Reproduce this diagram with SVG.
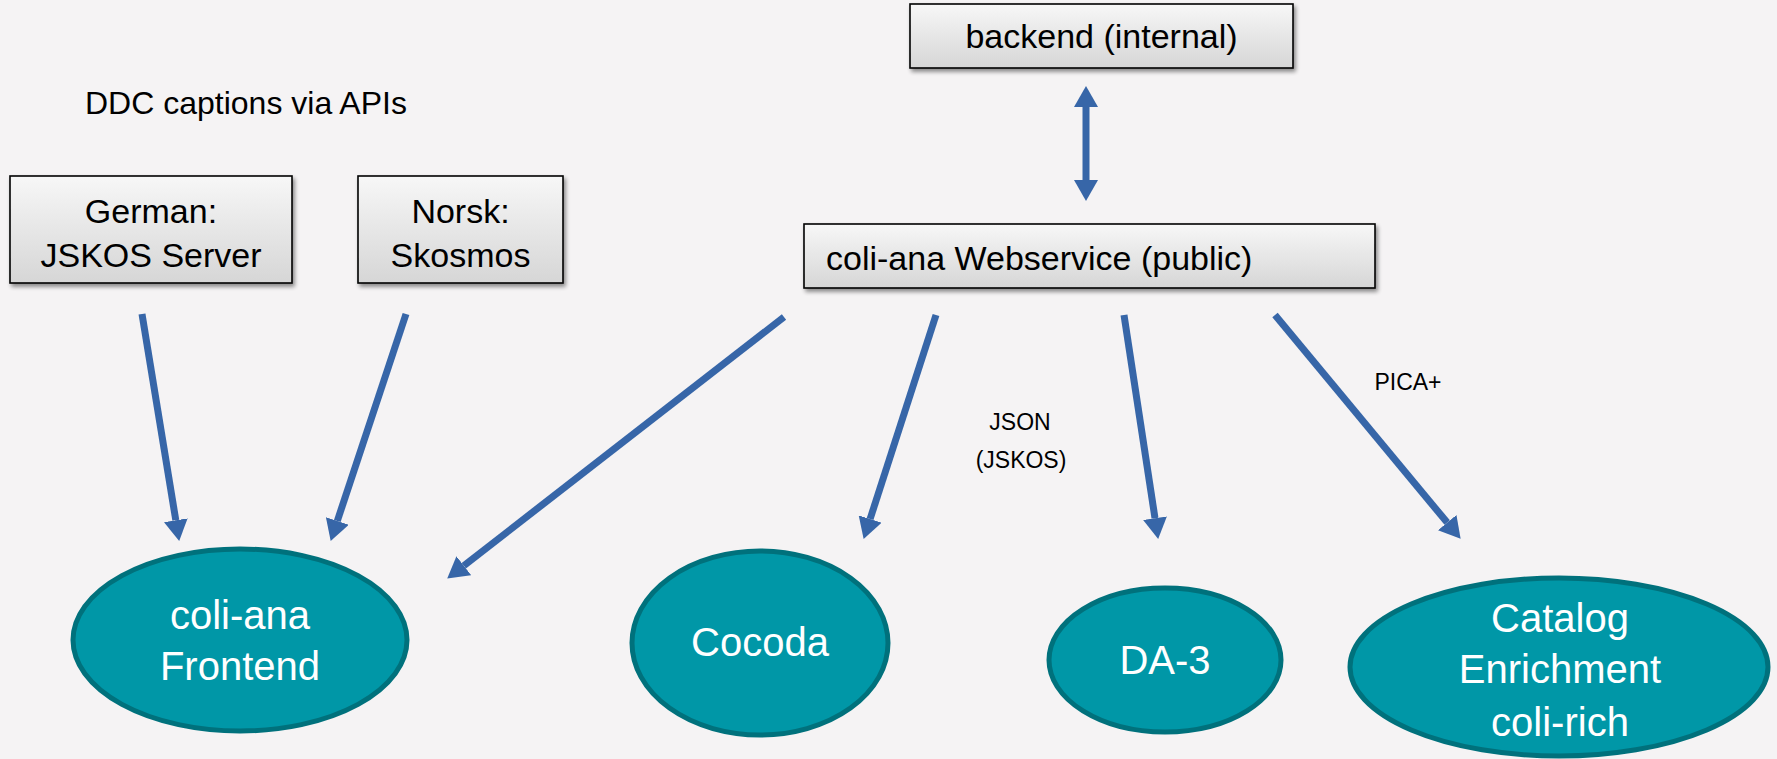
<svg xmlns="http://www.w3.org/2000/svg" width="1777" height="759" viewBox="0 0 1777 759">
<style>
.box{fill:url(#boxgrad);stroke:#000;stroke-width:1.6;filter:url(#shadow)}
.btxt{font-family:"Liberation Sans",Arial,sans-serif;fill:#000}
.ell{fill:#0097A7;stroke:#00717C;stroke-width:5}
.etxt{font-family:"Liberation Sans",Arial,sans-serif;font-size:40px;fill:#fff;text-anchor:middle}
.arr{stroke:#3766A8;stroke-width:7;fill:none}
.lbl{font-family:"Liberation Sans",Arial,sans-serif;font-size:23px;fill:#000;text-anchor:middle}
</style>
<defs>
<linearGradient id="boxgrad" x1="0" y1="0" x2="0" y2="1">
<stop offset="0" stop-color="#f7f7f7"/>
<stop offset="1" stop-color="#d6d6d6"/>
</linearGradient>
<filter id="shadow" x="-10%" y="-20%" width="120%" height="150%">
<feGaussianBlur in="SourceAlpha" stdDeviation="2"/>
<feOffset dx="2" dy="3" result="b"/>
<feComponentTransfer><feFuncA type="linear" slope="0.45"/></feComponentTransfer>
<feMerge><feMergeNode/><feMergeNode in="SourceGraphic"/></feMerge>
</filter>
<marker id="ah" markerUnits="userSpaceOnUse" markerWidth="22" markerHeight="24" refX="0" refY="12" orient="auto-start-reverse" viewBox="0 0 22 24">
<path d="M0,0 L21,12 L0,24 Z" fill="#3766A8"/>
</marker>
</defs>
<rect width="1777" height="759" fill="#F5F3F4"/>

<text class="btxt" x="85" y="114" font-size="32">DDC captions via APIs</text>

<g id="backend">
<rect class="box" x="910" y="4" width="383" height="64"/>
<text class="btxt" x="1101.5" y="48" font-size="34" text-anchor="middle">backend (internal)</text>
</g>

<g id="german">
<rect class="box" x="10" y="176" width="282" height="107"/>
<text class="btxt" x="151" y="223" font-size="34" text-anchor="middle">German:</text>
<text class="btxt" x="151" y="267" font-size="34" text-anchor="middle">JSKOS Server</text>
</g>

<g id="norsk">
<rect class="box" x="358" y="176" width="205" height="107"/>
<text class="btxt" x="460.5" y="223" font-size="34" text-anchor="middle">Norsk:</text>
<text class="btxt" x="460.5" y="267" font-size="34" text-anchor="middle">Skosmos</text>
</g>

<g id="webservice">
<rect class="box" x="804" y="224" width="571" height="64"/>
<text class="btxt" x="826" y="270" font-size="34">coli-ana Webservice (public)</text>
</g>

<g id="frontend">
<ellipse class="ell" cx="240" cy="640" rx="167" ry="91"/>
<text class="etxt" x="240" y="629">coli-ana</text>
<text class="etxt" x="240" y="680">Frontend</text>
</g>

<g id="cocoda">
<ellipse class="ell" cx="760" cy="643" rx="128" ry="92"/>
<text class="etxt" x="760" y="656">Cocoda</text>
</g>

<g id="da3">
<ellipse class="ell" cx="1165" cy="660" rx="116" ry="72"/>
<text class="etxt" x="1165" y="674">DA-3</text>
</g>

<g id="catalog">
<ellipse class="ell" cx="1559" cy="667" rx="209" ry="89"/>
<text class="etxt" x="1560" y="632">Catalog</text>
<text class="etxt" x="1560" y="683">Enrichment</text>
<text class="etxt" x="1560" y="736">coli-rich</text>
</g>

<g id="connectors">
<line class="arr" x1="1086" y1="107" x2="1086" y2="180" marker-start="url(#ah)" marker-end="url(#ah)"/>
<line class="arr" x1="142" y1="314" x2="175.8" y2="520.3" marker-end="url(#ah)"/>
<line class="arr" x1="406" y1="314" x2="337.3" y2="521" marker-end="url(#ah)"/>
<line class="arr" x1="784" y1="317" x2="463.8" y2="565.7" marker-end="url(#ah)"/>
<line class="arr" x1="936" y1="315" x2="870.1" y2="519" marker-end="url(#ah)"/>
<line class="arr" x1="1124" y1="315" x2="1155" y2="518.2" marker-end="url(#ah)"/>
<line class="arr" x1="1275" y1="315" x2="1447.2" y2="522.6" marker-end="url(#ah)"/>
<text class="lbl" x="1020" y="430">JSON</text>
<text class="lbl" x="1021" y="468">(JSKOS)</text>
<text class="lbl" x="1408" y="390">PICA+</text>
</g>
</svg>
